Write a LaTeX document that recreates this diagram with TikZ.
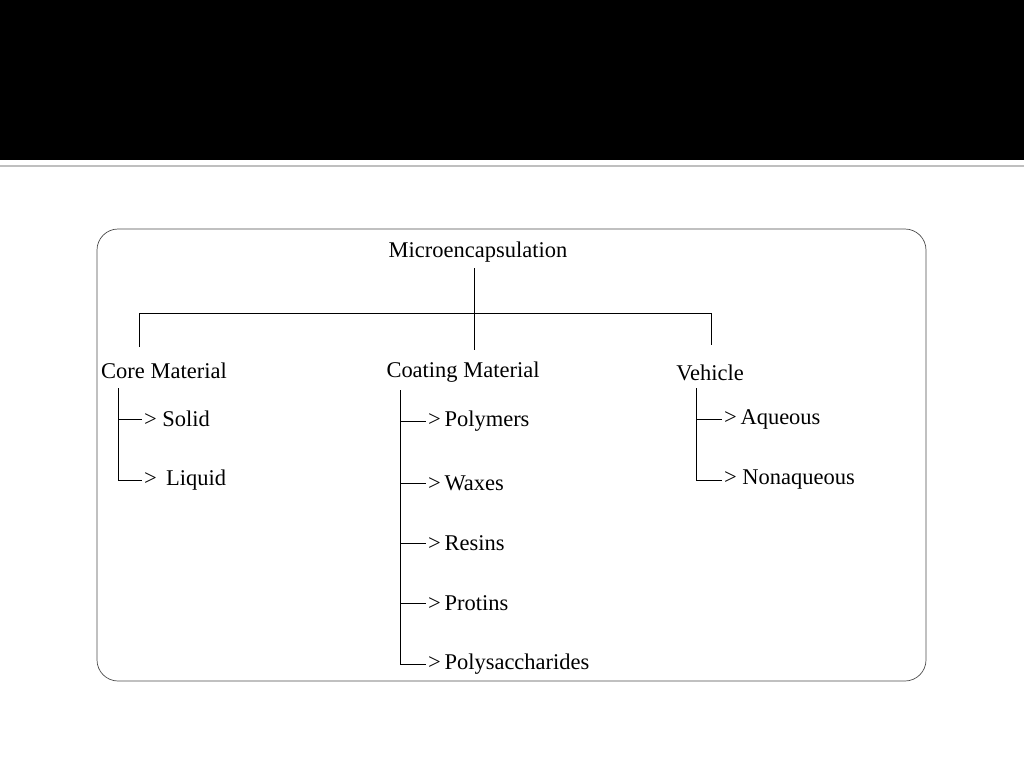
\documentclass[tikz,border=0pt]{standalone}
\usepackage{fontspec}
\setmainfont{Liberation Serif}
\usetikzlibrary{positioning}
\tikzset{
  head/.style={font=\fontsize{12.8}{14}\selectfont, inner sep=1pt},
  item/.style={font=\fontsize{12.8}{14}\selectfont, anchor=west, inner sep=1pt},
  branch/.style={draw=black, line width=0.45pt}
}
\begin{document}
\begin{tikzpicture}[x=0.02cm,y=-0.02cm]
\useasboundingbox (0,0) rectangle (1024,768);
\fill[black] (0,0) rectangle (1024,160);
\draw[gray!50, line width=1.2pt] (0,166) -- (1024,166);
\draw[black!70, rounded corners=12pt] (97,229) rectangle (926,681);

\node[head] (root) at (478,252) {Microencapsulation};
\node[head] (core) at (164,371) {Core Material};
\node[head] (coat) at (463,372) {Coating Material};
\node[head] (veh) at (710,373) {Vehicle};

\coordinate (j) at (474,313);
\draw[branch] (474,268) -- (j);
\draw[branch] (139,347) -- (139,313) -- (711,313) -- (711,345);
\draw[branch] (j) -- (474,350);

% core
\node[item] (solid) at (142,419) {> Solid};
\node[item] (liquid) at (142,480) {>\, Liquid};
\draw[branch] (118,388) |- (solid.west);
\draw[branch] (118,419) |- (liquid.west);

% coating
\foreach \n/\y/\t in {poly/421/Polymers, wax/483/Waxes, res/543/Resins, prot/603/Protins, sacc/664/Polysaccharides}
{
  \node[item] (\n) at (426,\y) {>\,\t};
  \draw[branch] (400,\y) -- (\n.west);
}
\draw[branch] (400,390) -- (400,664);

% vehicle
\node[item] (aq) at (722,419) {>\,Aqueous};
\node[item] (naq) at (722,480) {> Nonaqueous};
\draw[branch] (696,388) |- (aq.west);
\draw[branch] (696,419) |- (naq.west);
\end{tikzpicture}
\end{document}
